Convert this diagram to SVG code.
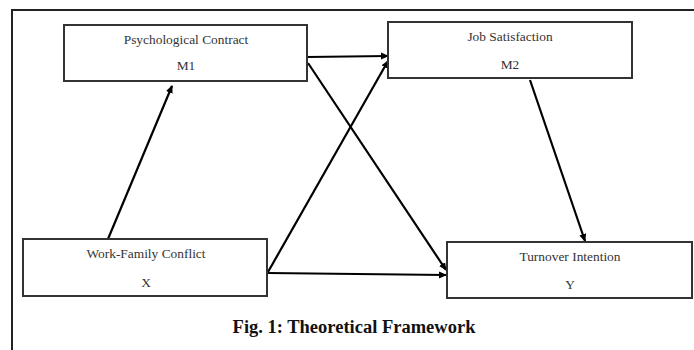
<svg xmlns="http://www.w3.org/2000/svg" width="694" height="350" viewBox="0 0 694 350">
<style>
.box{fill:#fff;stroke:#333;stroke-width:2}
.t{font-family:"Liberation Serif","Times New Roman",serif;font-size:13.4px;fill:#333;text-anchor:middle}
.c{stroke:#000;stroke-width:2.2;fill:none;marker-end:url(#ah)}
.cap{font-family:"Liberation Serif","Times New Roman",serif;font-size:18.5px;font-weight:bold;fill:#111;text-anchor:middle}
</style>
<defs>
<marker id="ah" markerWidth="8" markerHeight="8" refX="7" refY="4" orient="auto" markerUnits="userSpaceOnUse">
<path d="M0,0.5 L8,4 L0,7.5 Z" fill="#000"/>
</marker>
</defs>
<rect width="694" height="350" fill="#fff"/>
<g id="frame">
<path d="M694,10 H12 V350" fill="none" stroke="#222" stroke-width="2"/>
</g>
<g id="connectors">
<line class="c" x1="108" y1="239" x2="172" y2="86"/>
<line class="c" x1="307" y1="57" x2="388" y2="56"/>
<line class="c" x1="308" y1="63" x2="446" y2="270"/>
<line class="c" x1="268" y1="272" x2="388" y2="61"/>
<line class="c" x1="268" y1="273" x2="446" y2="275"/>
<line class="c" x1="530" y1="80" x2="585" y2="241"/>
</g>
<g id="m1">
<rect class="box" x="64" y="25" width="243" height="56"/>
<text class="t" x="186" y="44">Psychological Contract</text>
<text class="t" x="186" y="70">M1</text>
</g>
<g id="m2">
<rect class="box" x="388" y="22" width="244" height="56"/>
<text class="t" x="510" y="41">Job Satisfaction</text>
<text class="t" x="510" y="69">M2</text>
</g>
<g id="x">
<rect class="box" x="23" y="239" width="244" height="57"/>
<text class="t" x="146" y="258">Work-Family Conflict</text>
<text class="t" x="146" y="287">X</text>
</g>
<g id="y">
<rect class="box" x="447" y="242" width="245" height="56"/>
<text class="t" x="570" y="261">Turnover Intention</text>
<text class="t" x="570" y="289">Y</text>
</g>
<text class="cap" x="354" y="333">Fig. 1: Theoretical Framework</text>
</svg>
